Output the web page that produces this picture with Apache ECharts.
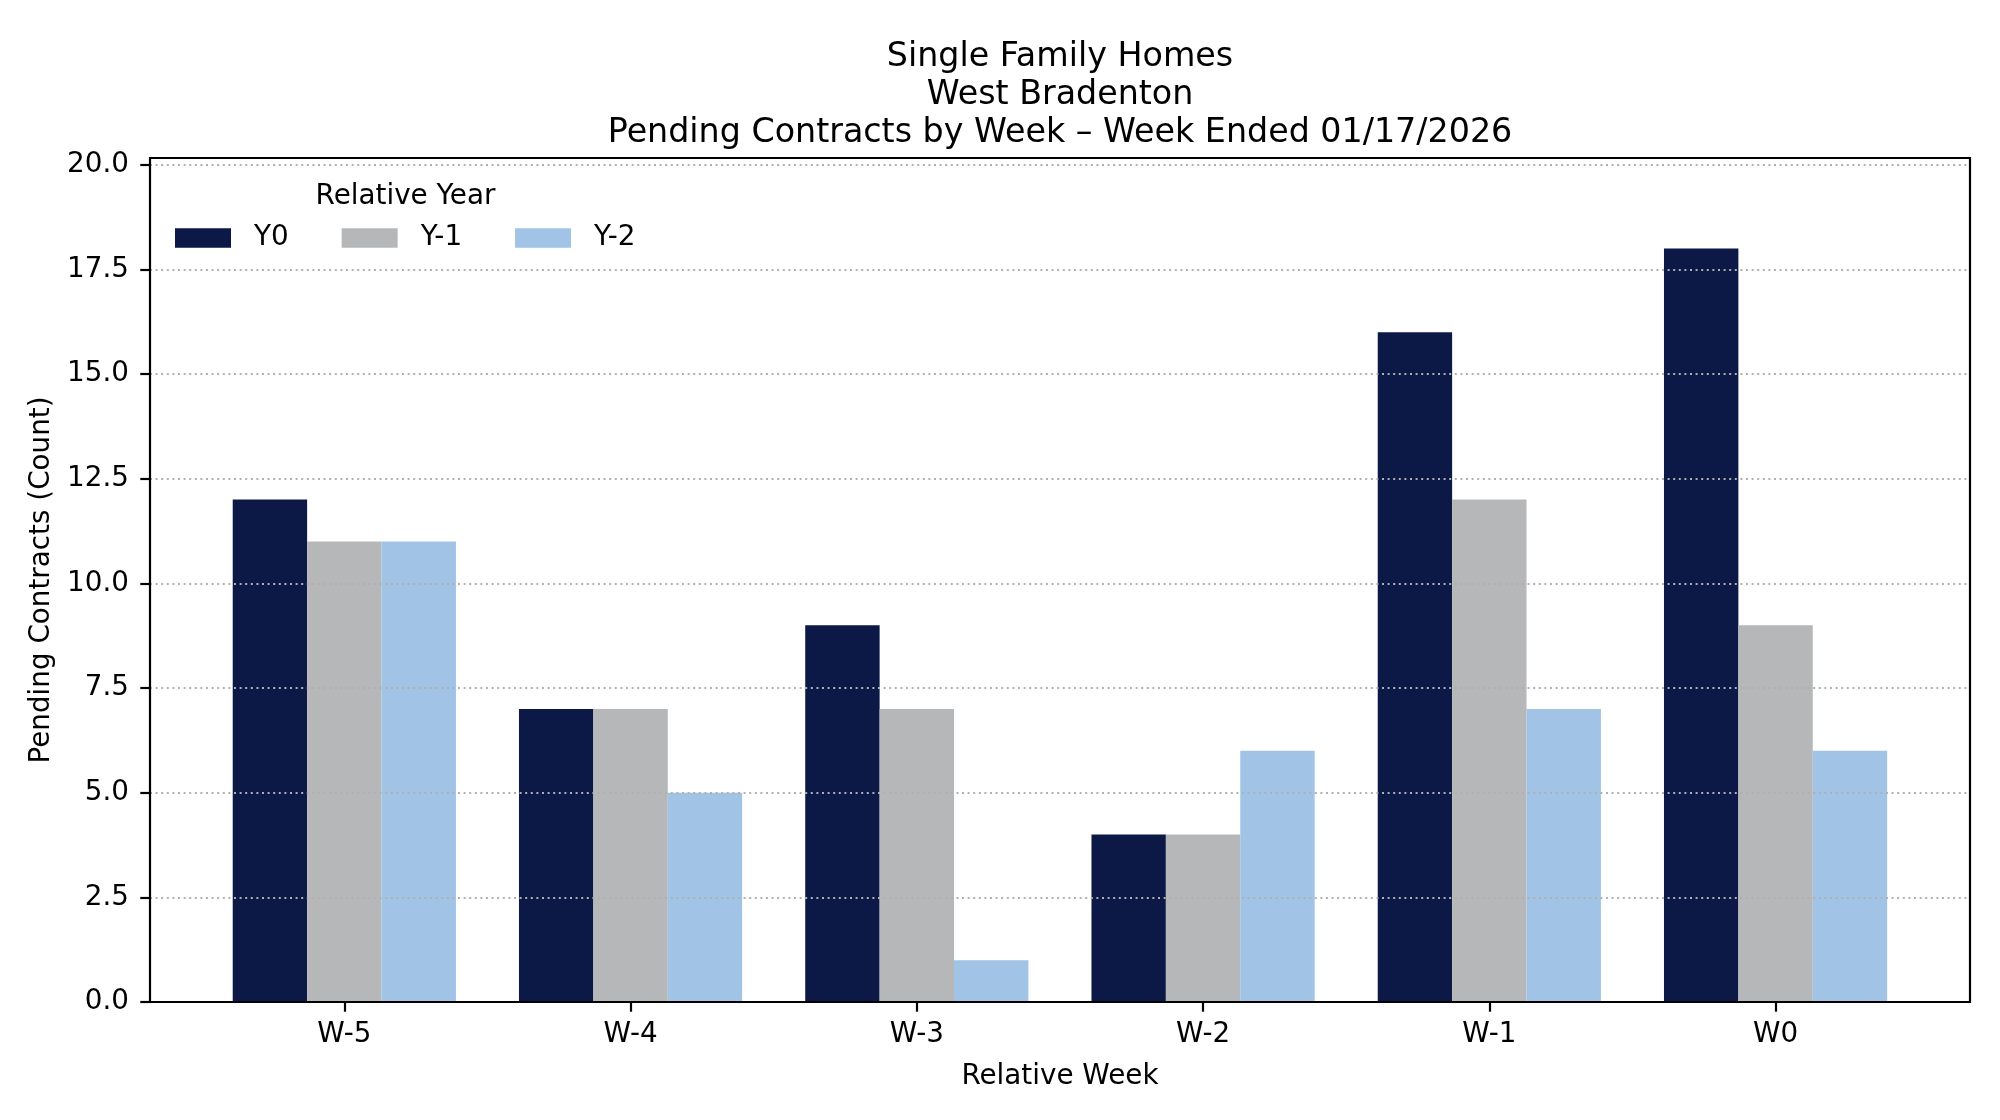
<!DOCTYPE html>
<html>
<head>
<meta charset="utf-8">
<script src="https://cdn.jsdelivr.net/npm/echarts@6/dist/echarts.min.js"></script>
<style>
html,body{margin:0;padding:0;background:#fff;}
#chart{width:2000px;height:1120px;}
</style>
</head>
<body>
<div id="chart"></div>
<script>
const weeks = ['W-5', 'W-4', 'W-3', 'W-2', 'W-1', 'W0'];
const seriesNames = ['Y0', 'Y-1', 'Y-2'];
const y0 = [12, 7, 9, 4, 16, 18];
const y1 = [11, 7, 7, 4, 12, 9];
const y2 = [11, 5, 1, 6, 7, 6];
const yTicks = [0, 2.5, 5, 7.5, 10, 12.5, 15, 17.5, 20];
const yMax = 20.16;

const colors = ['#0c1846', '#b6b7b9', '#a0c3e6'];
const FONT = 'DejaVu Sans';
const fs = 27.8;

const chart = echarts.init(document.getElementById('chart'), null, {renderer: 'canvas'});
const values = [y0, y1, y2];

const option = {
  backgroundColor: '#ffffff',
  animation: false,
  textStyle: {fontFamily: FONT},
  title: [
    {
      text: 'Single Family Homes\nWest Bradenton\nPending Contracts by Week \u2013 Week Ended 01/17/2026',
      left: 1055, top: 33, textAlign: 'center',
      textStyle: {fontFamily: FONT, fontSize: 33.3, fontWeight: 'normal', color: '#000', lineHeight: 38}
    },
    {
      text: 'Relative Year',
      left: 400.5, top: 176, textAlign: 'center',
      textStyle: {fontFamily: FONT, fontSize: fs, fontWeight: 'normal', color: '#000', lineHeight: 32}
    }
  ],
  legend: {
    data: seriesNames,
    left: 170, top: 217,
    orient: 'horizontal',
    itemWidth: 56, itemHeight: 19.4,
    itemGap: 53,
    icon: 'rect',
    textStyle: {fontFamily: FONT, fontSize: fs, color: '#000', lineHeight: 32, padding: [0, 0, 0, 18]}
  },
  grid: [
    {left: 150, top: 158, width: 1820, height: 844, show: true, borderColor: '#000', borderWidth: 2.2, backgroundColor: 'transparent', z: 10},
    {left: 201.2, top: 158, width: 1717.5, height: 844, show: false}
  ],
  xAxis: [
    {gridIndex: 0, type: 'value', min: 0, max: 1, show: false},
    {
      gridIndex: 1, type: 'category', data: weeks,
      axisLine: {show: false},
      axisTick: {show: true, alignWithLabel: true, length: 9.7, lineStyle: {color: '#000', width: 2.2}},
      axisLabel: {fontFamily: FONT, fontSize: fs, color: '#000', margin: 19},
      name: 'Relative Week', nameLocation: 'middle', nameGap: 61,
      nameTextStyle: {fontFamily: FONT, fontSize: fs, color: '#000'}
    }
  ],
  yAxis: [
    {
      gridIndex: 0, type: 'value', min: 0, max: yMax, interval: 2.5, z: 6,
      axisLine: {show: false},
      axisTick: {show: true, length: 9.7, lineStyle: {color: '#000', width: 2.2}, customValues: yTicks},
      axisLabel: {fontFamily: FONT, fontSize: fs, color: '#000', margin: 21, customValues: yTicks,
        formatter: v => v.toFixed(1)},
      splitLine: {show: true, lineStyle: {color: '#b0b0b0', width: 1.8, type: [2, 3.6]}},
      name: 'Pending Contracts (Count)', nameLocation: 'middle', nameGap: 92,
      nameTextStyle: {fontFamily: FONT, fontSize: fs, color: '#000'}
    },
    {gridIndex: 1, type: 'value', min: 0, max: yMax, show: false}
  ],
  series: seriesNames.map((n, i) => ({
    name: n, type: 'bar', xAxisIndex: 1, yAxisIndex: 1,
    data: values[i], barWidth: 74.4, barGap: '0%',
    itemStyle: {color: colors[i]},
    z: 2
  }))
};
chart.setOption(option);
</script>
</body>
</html>
